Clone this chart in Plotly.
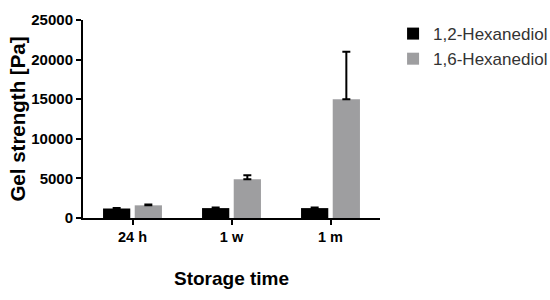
import plotly.graph_objects as go

categories = ["24 h", "1 w", "1 m"]
hex12_values = [1200, 1250, 1250]
hex12_errors = [60, 80, 80]
hex16_values = [1600, 4900, 15000]
hex16_errors = [120, 500, 6000]
y_ticks = [0, 5000, 10000, 15000, 20000, 25000]

font_family = "Arial, Liberation Sans, sans-serif"

fig = go.Figure()
fig.add_trace(go.Bar(
    x=categories, y=hex12_values, name="1,2-Hexanediol",
    marker=dict(color="#000000", line=dict(width=0)),
    error_y=dict(type="data", array=hex12_errors, arrayminus=[0]*3, symmetric=False,
                 color="#000000", thickness=2, width=4),
))
fig.add_trace(go.Bar(
    x=categories, y=hex16_values, name="1,6-Hexanediol",
    marker=dict(color="#9e9ea0", line=dict(width=0)),
    error_y=dict(type="data", array=hex16_errors, arrayminus=[0]*3, symmetric=False,
                 color="#000000", thickness=2, width=4),
))

fig.update_layout(
    width=580, height=300,
    margin=dict(l=83, r=200, t=20, b=82),
    plot_bgcolor="white", paper_bgcolor="white",
    barmode="group", bargap=0.36, bargroupgap=0.14,
    font=dict(family=font_family, color="#000000"),
    showlegend=True,
    legend=dict(x=1.044, y=1.02, xanchor="left", yanchor="top",
                font=dict(size=17, color="#333333", family=font_family),
                bgcolor="rgba(0,0,0,0)", tracegroupgap=0),
    xaxis=dict(
        automargin=False,
        showline=True, linecolor="#000000", linewidth=2,
        ticks="outside", ticklen=5, tickwidth=2, tickcolor="#000000",
        tickfont=dict(size=14.5, family=font_family, weight="bold"),
        title=dict(text="<b>Storage time</b>", font=dict(size=19), standoff=27),
        showgrid=False, zeroline=False,
    ),
    yaxis=dict(
        automargin=False,
        range=[0, 25000], tickvals=y_ticks, tickformat="d",
        showline=True, linecolor="#000000", linewidth=2,
        ticks="outside", ticklen=5, tickwidth=2, tickcolor="#000000",
        tickfont=dict(size=15, family=font_family, weight="bold"),
        title=dict(text="<b>Gel strength [Pa]</b>", font=dict(size=20.5), standoff=0),
        showgrid=False, zeroline=False,
    ),
)

fig.write_html(
    "out.html",
    config={"displayModeBar": False},
    post_script="document.body.style.margin='0';document.body.style.overflow='hidden';",
)
